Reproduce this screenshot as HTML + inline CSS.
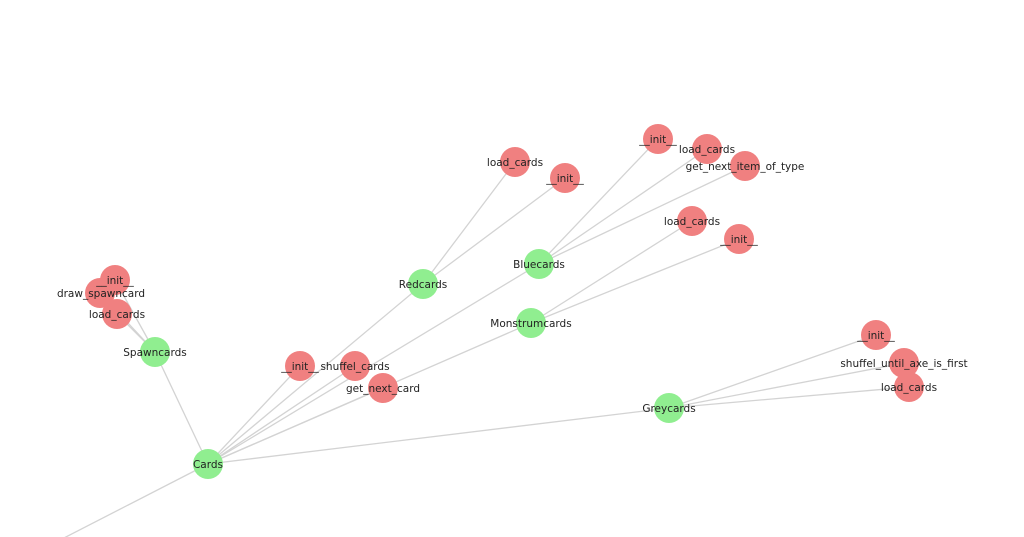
<!DOCTYPE html>
<html><head><meta charset="utf-8"><style>
html,body{margin:0;padding:0;background:#fff;width:1024px;height:537px;overflow:hidden}
text{font-family:"DejaVu Sans","Liberation Sans",sans-serif;font-size:10.5px;fill:#222;text-anchor:middle;dominant-baseline:central}
</style></head><body>
<svg width="1024" height="537" xmlns="http://www.w3.org/2000/svg">
<g stroke="#d3d3d3" stroke-width="1.3">
<line x1="208" y1="464" x2="60" y2="540"/>
<line x1="208" y1="464" x2="155" y2="352"/>
<line x1="208" y1="464" x2="423" y2="284"/>
<line x1="208" y1="464" x2="539" y2="264"/>
<line x1="208" y1="464" x2="531" y2="323"/>
<line x1="208" y1="464" x2="669" y2="408"/>
<line x1="208" y1="464" x2="300" y2="366"/>
<line x1="208" y1="464" x2="355" y2="366"/>
<line x1="208" y1="464" x2="383" y2="388"/>
<line x1="155" y1="352" x2="115" y2="280"/>
<line x1="155" y1="352" x2="100" y2="293"/>
<line x1="155" y1="352" x2="117" y2="314"/>
<line x1="423" y1="284" x2="515" y2="162"/>
<line x1="423" y1="284" x2="565" y2="178"/>
<line x1="539" y1="264" x2="658" y2="139"/>
<line x1="539" y1="264" x2="707" y2="149"/>
<line x1="539" y1="264" x2="745" y2="166"/>
<line x1="531" y1="323" x2="692" y2="221"/>
<line x1="531" y1="323" x2="739" y2="239"/>
<line x1="669" y1="408" x2="876" y2="335"/>
<line x1="669" y1="408" x2="904" y2="363"/>
<line x1="669" y1="408" x2="909" y2="387"/>
</g>
<g fill="#f08080">
<circle cx="515" cy="162" r="15"/><circle cx="565" cy="178" r="15"/>
<circle cx="658" cy="139" r="15"/><circle cx="707" cy="149" r="15"/><circle cx="745" cy="166" r="15"/>
<circle cx="692" cy="221" r="15"/><circle cx="739" cy="239" r="15"/>
<circle cx="115" cy="280" r="15"/><circle cx="100" cy="293" r="15"/><circle cx="117" cy="314" r="15"/>
<circle cx="300" cy="366" r="15"/><circle cx="355" cy="366" r="15"/><circle cx="383" cy="388" r="15"/>
<circle cx="876" cy="335" r="15"/><circle cx="904" cy="363" r="15"/><circle cx="909" cy="387" r="15"/>
</g>
<g fill="#90ee90">
<circle cx="423" cy="284" r="15"/><circle cx="539" cy="264" r="15"/><circle cx="531" cy="323" r="15"/>
<circle cx="155" cy="352" r="15"/><circle cx="208" cy="464" r="15"/><circle cx="669" cy="408" r="15"/>
</g>
<g transform="translate(0,1)">
<text x="515" y="162">load_cards</text><text x="565" y="178">__init__</text>
<text x="658" y="139">__init__</text><text x="707" y="149">load_cards</text><text x="745" y="166">get_next_item_of_type</text>
<text x="692" y="221">load_cards</text><text x="739" y="239">__init__</text>
<text x="115" y="280">__init__</text><text x="101" y="293">draw_spawncard</text><text x="117" y="314">load_cards</text>
<text x="300" y="366">__init__</text><text x="355" y="366">shuffel_cards</text><text x="383" y="388">get_next_card</text>
<text x="876" y="335">__init__</text><text x="904" y="363">shuffel_until_axe_is_first</text><text x="909" y="387">load_cards</text>
<text x="423" y="284">Redcards</text><text x="539" y="264">Bluecards</text><text x="531" y="323">Monstrumcards</text>
<text x="155" y="352">Spawncards</text><text x="208" y="464">Cards</text><text x="669" y="408">Greycards</text>
</g>
</svg>
</body></html>
